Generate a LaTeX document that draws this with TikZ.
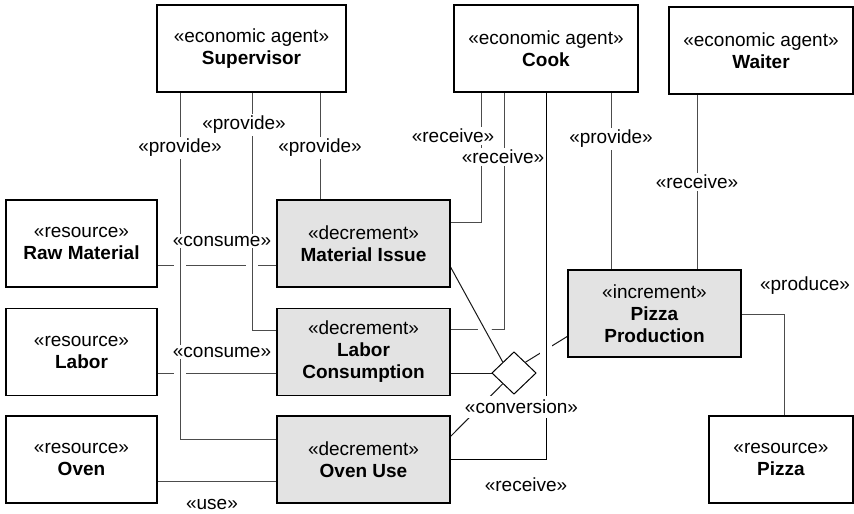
\documentclass[tikz,border=0pt]{standalone}
\usepackage{fontspec}
\setmainfont{Liberation Sans}
\usetikzlibrary{shapes.geometric,backgrounds}
\begin{document}
\begin{tikzpicture}[x=1pt,y=-1pt,
  every node/.style={font=\fontsize{19}{22}\selectfont},
  elem/.style={draw=black, line width=1.2pt, fill=white, align=center,
    inner sep=0pt, outer sep=0pt, minimum height=87pt},
  decbox/.style={elem, fill=black!11},
  link/.style={draw=black!70, line width=1pt},
  slant/.style={draw=black!90, line width=1pt},
  hop/.style={preaction={draw=white, line width=12pt}},
  lbl/.style={fill=white, inner sep=2pt}]
\useasboundingbox (0,0) rectangle (854,514);

% agents
\node[elem, minimum width=189pt] (sup) at (251.5,48.5) {«economic agent»\\\textbf{Supervisor}};
\node[elem, minimum width=184pt] (cook) at (546,48.5) {«economic agent»\\\textbf{Cook}};
\node[elem, minimum width=184pt] (waiter) at (761,50.5) {«economic agent»\\\textbf{Waiter}};

% resources
\node[elem, minimum width=151pt] (raw) at (81.5,243.5) {«resource»\\\textbf{Raw Material}};
\node[elem, minimum width=151pt] (labor) at (81.5,352) {«resource»\\\textbf{Labor}};
\node[elem, minimum width=151pt] (oven) at (81.5,459.5) {«resource»\\\textbf{Oven}};
\node[elem, minimum width=144pt] (pizza) at (781,459.5) {«resource»\\\textbf{Pizza}};

% events
\node[decbox, minimum width=173pt] (matiss) at (363.5,243.5) {«decrement»\\\textbf{Material Issue}};
\node[decbox, minimum width=173pt] (laborc) at (363.5,352) {«decrement»\\\textbf{Labor}\\\textbf{Consumption}};
\node[decbox, minimum width=173pt] (ovenuse) at (363.5,459.5) {«decrement»\\\textbf{Oven Use}};
\node[decbox, minimum width=173pt] (pizzap) at (654.5,313.5) {«increment»\\\textbf{Pizza}\\\textbf{Production}};

% conversion duality
\node[diamond, draw=black, line width=1pt, fill=white, minimum width=44pt,
  minimum height=42pt, inner sep=0pt, outer sep=0pt] (conv) at (514,373) {};

% routing guides
\coordinate (xa) at (180,0);
\coordinate (xb) at (252,0);
\coordinate (xc) at (320,0);
\coordinate (xd) at (481,0);
\coordinate (xe) at (504,0);
\coordinate (xf) at (611,0);
\coordinate (xg) at (697,0);
\coordinate (xh) at (784,0);
\coordinate (ya) at (0,439);
\coordinate (yb) at (0,330);
\coordinate (yc) at (0,265);
\coordinate (yd) at (0,373);
\coordinate (ye) at (0,481);
\coordinate (yf) at (0,222);
\coordinate (yg) at (0,329);
\coordinate (yh) at (0,266);
\coordinate (yi) at (0,437);
\coordinate (yj) at (0,336);
\coordinate (yk) at (0,314);

\begin{scope}[on background layer]
  % plain connectors
  \draw[link] (raw.east |- yc) -- (matiss.west |- yc);
  \draw[link] (labor.east |- yd) -- (laborc.west |- yd);
  \draw[link] (oven.east |- ye) -- (ovenuse.west |- ye);
  \draw[link] (sup.south -| xc) -- (matiss.north -| xc);
  \draw[link] (cook.south -| xd) |- (matiss.east |- yf);
  \draw[link] (cook.south -| xe) |- (laborc.east |- yg);
  \draw[link] (cook.south -| xf) -- (pizzap.north -| xf);
  \draw[link] (waiter.south -| xg) -- (pizzap.north -| xg);
  \draw[link] (pizzap.east |- yk) -| (pizza.north -| xh);
  \draw[slant] (pizzap.west |- yj) -- (conv.north east);
  \draw[slant] (laborc.east |- yd) -- (conv.west);
  \draw[slant] (ovenuse.east |- yi) -- (conv.south west);
  % connectors that hop over the ones they cross
  \draw[link, hop] (sup.south -| xa) |- (ovenuse.west |- ya);
  \draw[link, hop] (sup.south -| xb) |- (laborc.west |- yb);
  \draw[slant, hop] (matiss.east |- yh) -- (conv.north west);
  \draw[draw=black, line width=1pt, hop] (cook.south) |- (ovenuse.east);
\end{scope}

% stereotype labels
\node[lbl] (l1) at (180,148) {«provide»};
\node[lbl] (l2) at (244,125) {«provide»};
\node[lbl] (l3) at (320,148) {«provide»};
\node[lbl] (l4) at (222,241) {«consume»};
\node[lbl] (l5) at (222,352) {«consume»};
\node[lbl] (l6) at (212,504) {«use»};
\node[lbl] (l7) at (453,136) {«receive»};
\node[lbl] (l8) at (503,157) {«receive»};
\node[lbl] (l9) at (611,139) {«provide»};
\node[lbl] (l10) at (697,182) {«receive»};
\node[lbl] (l11) at (805,286) {«produce»};
\node[lbl, inner ysep=4pt] (l12) at (521.5,407) {«conversion»};
\node[lbl] (l13) at (526,485) {«receive»};
\end{tikzpicture}
\end{document}
